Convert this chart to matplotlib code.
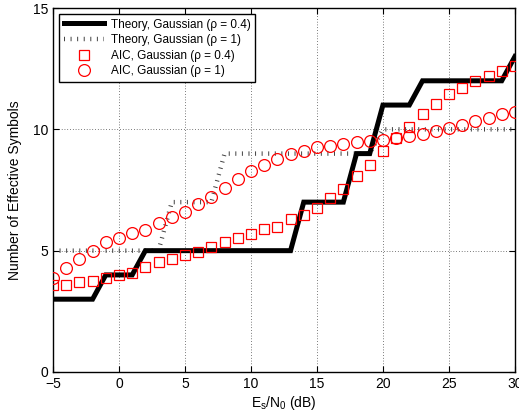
import numpy as np
import matplotlib
matplotlib.use("Agg")
import matplotlib.pyplot as plt

plt.rcParams['font.family'] = ['Liberation Sans', 'DejaVu Sans']
plt.rcParams['mathtext.fontset'] = 'custom'
plt.rcParams['mathtext.rm'] = 'Liberation Sans'

# Es/N0 (dB) grid
snr = np.arange(-5, 31)

# theory curves (values at integer dB points)
theory_04 = [3, 3, 3, 3, 4, 4, 4, 5, 5, 5, 5, 5, 5, 5, 5, 5, 5, 5, 5, 7, 7, 7, 7, 9,
             9, 11, 11, 11, 12, 12, 12, 12, 12, 12, 12, 13]
theory_1 = [5, 5, 5, 5, 5, 5, 5, 5, 5, 7, 7, 7, 7, 9, 9, 9, 9, 9, 9, 9, 9, 9, 9, 9,
            9, 10, 10, 10, 10, 10, 10, 10, 10, 10, 10, 10]

# AIC estimates
aic_04 = [3.57, 3.60, 3.69, 3.73, 3.87, 3.98, 4.09, 4.31, 4.52, 4.66, 4.82, 4.96,
          5.16, 5.37, 5.53, 5.70, 5.88, 5.99, 6.29, 6.47, 6.74, 7.18, 7.54, 8.09,
          8.53, 9.10, 9.63, 10.08, 10.63, 11.04, 11.45, 11.71, 11.99, 12.21, 12.41, 12.62]
aic_1 = [3.89, 4.27, 4.64, 5.00, 5.34, 5.52, 5.71, 5.85, 6.13, 6.37, 6.60, 6.91,
         7.20, 7.57, 7.94, 8.28, 8.53, 8.76, 8.98, 9.12, 9.26, 9.33, 9.39, 9.46,
         9.52, 9.56, 9.63, 9.72, 9.81, 9.94, 10.04, 10.18, 10.35, 10.45, 10.62, 10.73]

fig = plt.figure(figsize=(5.19, 4.19), dpi=100)
ax = fig.add_axes([0.1021, 0.1122, 0.890, 0.8687])

ax.plot(snr, theory_04, color='k', lw=3.6, solid_joinstyle='miter',
        label=u'Theory, Gaussian (\u03c1 = 0.4)', zorder=3)
ax.plot(snr, theory_1, color='0.25', lw=3.2, linestyle=(0, (0.22, 1.26)),
        dash_capstyle='butt', label=u'Theory, Gaussian (\u03c1 = 1)', zorder=2)
ax.plot(snr, aic_04, 's', mfc='none', mec='red', ms=6.5, mew=0.9,
        label=u'AIC, Gaussian (\u03c1 = 0.4)', zorder=4)
ax.plot(snr, aic_1, 'o', mfc='none', mec='red', ms=8.5, mew=0.9,
        label=u'AIC, Gaussian (\u03c1 = 1)', zorder=4)

ax.set_xlim(-5, 30)
ax.set_ylim(0, 15)
ax.set_xticks(np.arange(-5, 31, 5))
ax.set_yticks([0, 5, 10, 15])
ax.tick_params(direction='in', top=True, right=True, labelsize=10, length=4)
ax.grid(True, color='k', linestyle=(0, (1, 3)), lw=0.5)
for s in ax.spines.values():
    s.set_linewidth(1.0)

ax.set_xlabel(r'E$_\mathregular{s}$/N$_\mathregular{0}$ (dB)', fontsize=10, labelpad=2)
ax.set_ylabel('Number of Effective Symbols', fontsize=10, labelpad=8)

leg = ax.legend(loc='upper left', fontsize=8.5, handlelength=3.4, fancybox=False,
                framealpha=1, edgecolor='k', borderaxespad=0.5, labelspacing=0.3,
                handletextpad=0.6, borderpad=0.4)
leg.get_frame().set_linewidth(1.0)

fig.savefig('out.png', dpi=100)
